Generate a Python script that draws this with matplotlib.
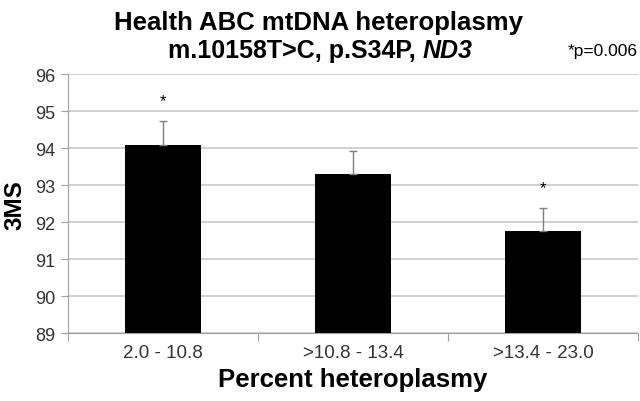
import matplotlib
matplotlib.use("Agg")
import matplotlib.pyplot as plt
import numpy as np

plt.rcParams['font.family'] = ['Liberation Sans', 'DejaVu Sans']

categories = ["2.0 - 10.8", ">10.8 - 13.4", ">13.4 - 23.0"]
means = [94.09, 93.29, 91.75]
errors = [0.65, 0.63, 0.64]
significant = [True, False, True]
yticks = [89, 90, 91, 92, 93, 94, 95, 96]

fig = plt.figure(figsize=(6.4, 4.02), dpi=100)
ax = fig.add_axes([0.106, 0.169, 0.891, 0.644])

x = np.arange(len(categories))
ax.bar(x, means, width=0.4, color='black', zorder=3)
ax.errorbar(x, means, yerr=[[0]*len(errors), errors], fmt='none',
            ecolor='#7f7f7f', elinewidth=1.0, capsize=3, capthick=1.0, zorder=4)
for xi, m, e, s in zip(x, means, errors, significant):
    if s:
        ax.text(xi, m + e + 0.55, "*", ha='center', va='center', fontsize=12)

ax.set_xlim(-0.5, len(categories) - 0.5)
ax.set_ylim(89, 96)
ax.set_yticks(yticks)
ax.set_yticklabels([str(t) for t in yticks], fontsize=13, color='#333333')
ax.set_xticks(x)
ax.set_xticklabels(categories, fontsize=13.5, color='#333333')
ax.tick_params(axis='x', length=0, pad=8)
ax.set_xticks(np.arange(-0.5, len(categories), 1.0), minor=True)
ax.tick_params(axis='x', which='minor', length=6, color='#a0a0a0', width=0.8)
ax.tick_params(axis='y', length=5, color='#a0a0a0', width=0.8, pad=4)
ax.yaxis.grid(True, color='#c8c8c8', linewidth=1.2, zorder=0)
ax.set_axisbelow(True)
for sp in ['top', 'right']:
    ax.spines[sp].set_visible(False)
for sp in ['left', 'bottom']:
    ax.spines[sp].set_color('#a0a0a0')
    ax.spines[sp].set_linewidth(0.8)

ax.set_ylabel("3MS", fontsize=17.5, fontweight='bold', labelpad=6)
ax.set_xlabel("Percent heteroplasmy", fontsize=18.5, fontweight='bold', labelpad=4)

fig.text(0.497, 0.942, "Health ABC mtDNA heteroplasmy", ha='center', va='center',
         fontsize=18.5, fontweight='bold')

# second title line: regular-bold part + bold-italic gene name, centered together
renderer = fig.canvas.get_renderer()
t1 = fig.text(0, 0.873, "m.10158T>C, p.S34P, ", ha='left', va='center',
              fontsize=18, fontweight='bold')
t2 = fig.text(0, 0.873, "ND3", ha='left', va='center',
              fontsize=18, fontweight='bold', style='italic')
w1 = t1.get_window_extent(renderer).width / fig.bbox.width
w2 = t2.get_window_extent(renderer).width / fig.bbox.width
start = 0.5 - (w1 + w2) / 2
t1.set_x(start)
t2.set_x(start + w1)

fig.text(0.996, 0.873, "*p=0.006", ha='right', va='center', fontsize=12.5)

fig.savefig("out.png", dpi=100)
